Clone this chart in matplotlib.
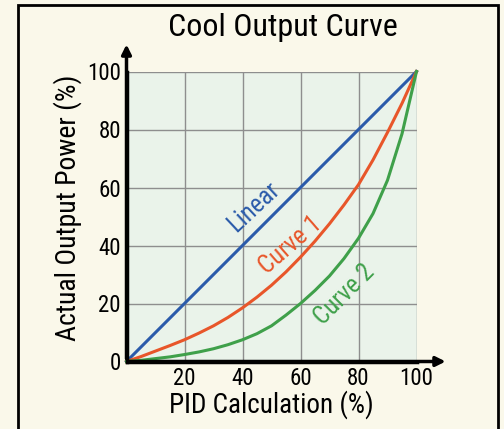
import matplotlib
matplotlib.use('Agg')
import matplotlib.pyplot as plt
from matplotlib.patches import Rectangle

# dados
pid = [0, 5, 10, 15, 20, 25, 30, 35, 40, 45, 50, 55, 60, 65, 70, 75, 80, 85, 90, 95, 100]
linear = [0, 5, 10, 15, 20, 25, 30, 35, 40, 45, 50, 55, 60, 65, 70, 75, 80, 85, 90, 95, 100]
curva1 = [0, 1.7, 3.6, 5.5, 7.5, 9.8, 12.3, 15.2, 18.5, 22.2, 26.3, 30.9, 36, 41.5,
          47.5, 54, 61, 69.5, 79, 89, 100]
curva2 = [0, 0.4, 1, 1.6, 2.4, 3.3, 4.4, 5.8, 7.5, 9.6, 12.3, 16, 20, 24.5,
          29.5, 35.5, 42.5, 51, 62.5, 78.5, 100]
xticks = [20, 40, 60, 80, 100]
yticks = [0, 20, 40, 60, 80, 100]

fonte = ['Roboto Condensed', 'DejaVu Sans']
fundo = '#FAF8EA'
azul, laranja, verde = '#2B5BAA', '#E8562A', '#3FA04A'

fig = plt.figure(figsize=(5.04, 4.29), dpi=100, facecolor=fundo)
ax = fig.add_axes([126.5/504, 1 - 361.5/429, 290/504, 290/429])
ax.set_facecolor('#EAF3EA')

# moldura preta da figura
fig.patches.append(Rectangle((18/504, -0.1), (498-18)/504, 1.1 - 5/429,
                             transform=fig.transFigure, fill=False,
                             edgecolor='black', linewidth=2.0))

ax.plot(pid, linear, color=azul, lw=2.2, clip_on=False, zorder=3)
ax.plot(pid, curva1, color=laranja, lw=2.2, clip_on=False, zorder=3)
ax.plot(pid, curva2, color=verde, lw=2.2, clip_on=False, zorder=3)

ax.set_xlim(0, 100)
ax.set_ylim(0, 100)
ax.set_xticks(xticks)
ax.set_yticks(yticks)
ax.grid(True, color='#8E8E8E', lw=1.0)
ax.tick_params(length=0, labelsize=16.5, pad=4)
for lab in ax.get_xticklabels() + ax.get_yticklabels():
    lab.set_family(fonte)

for s in ['top', 'right']:
    ax.spines[s].set_visible(False)
for s in ['left', 'bottom']:
    ax.spines[s].set_linewidth(2.5)
    ax.spines[s].set_zorder(4)

# setas dos eixos
ax.annotate('', xy=(111, 0), xytext=(0, 0), xycoords='data',
            arrowprops=dict(arrowstyle='-|>', color='black', lw=2.5, mutation_scale=14),
            annotation_clip=False)
ax.annotate('', xy=(0, 110.3), xytext=(0, 0), xycoords='data',
            arrowprops=dict(arrowstyle='-|>', color='black', lw=2.5, mutation_scale=14),
            annotation_clip=False)

fig.text(271/504, 1 - 413/429, 'PID Calculation (%)', fontsize=19.5, family=fonte,
         ha='center', va='baseline')
fig.text(68/504, 1 - 208/429, 'Actual Output Power (%)', fontsize=20, family=fonte,
         ha='center', va='center', rotation=90)
fig.text(283/504, 1 - 36/429, 'Cool Output Curve', fontsize=23, family=fonte,
         ha='center', va='baseline')

ax.text(43.7, 53.4, 'Linear', color=azul, fontsize=18, family=fonte,
        rotation=43, ha='center', va='center', rotation_mode='anchor')
ax.text(56.4, 40.2, 'Curve 1', color=laranja, fontsize=18, family=fonte,
        rotation=41, ha='center', va='center', rotation_mode='anchor')
ax.text(75, 23, 'Curve 2', color=verde, fontsize=18, family=fonte,
        rotation=45, ha='center', va='center', rotation_mode='anchor')

fig.savefig('out.png', dpi=100, facecolor=fundo)
